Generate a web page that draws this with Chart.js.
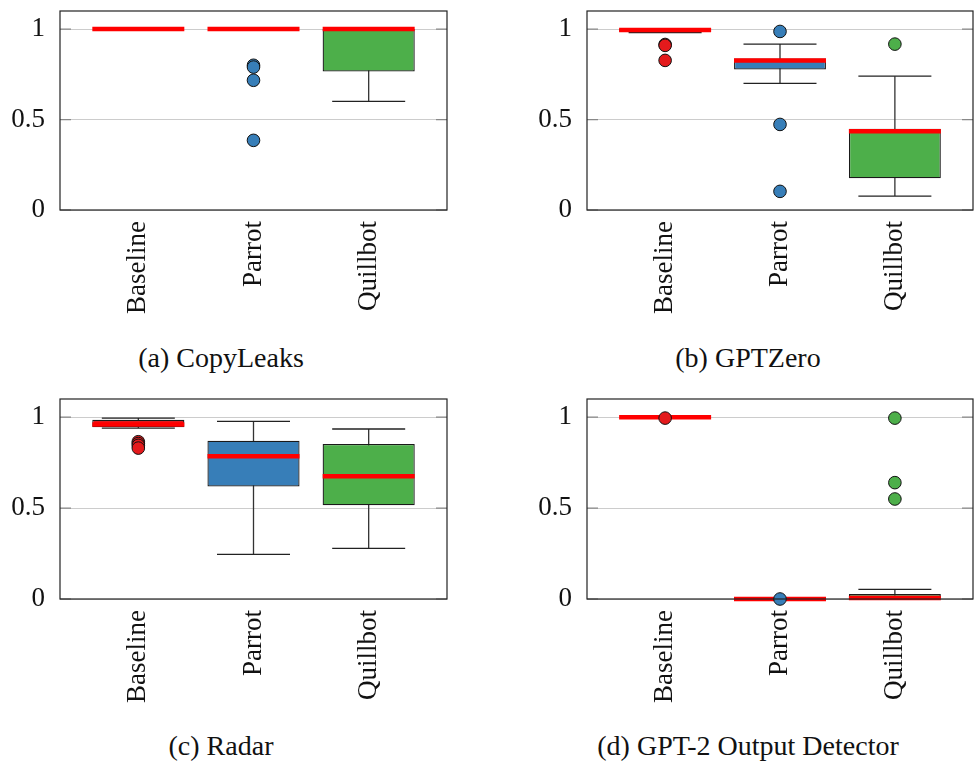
<!DOCTYPE html>
<html>
<head>
<meta charset="utf-8">
<script src="https://cdn.jsdelivr.net/npm/chart.js@4.4.1/dist/chart.umd.min.js"></script>
<style>
  body { margin: 0; background: #fff; }
  #wrap { position: relative; width: 976px; height: 763px; }
  canvas { position: absolute; }
  .caption {
    position: absolute;
    font-family: "Liberation Serif", serif;
    font-size: 28px;
    color: #111;
    transform: translate(-50%, -50%);
    white-space: nowrap;
  }
</style>
</head>
<body>
<div id="wrap">
  <canvas id="copyleaks"></canvas>
  <canvas id="gptzero"></canvas>
  <canvas id="radar"></canvas>
  <canvas id="gpt2"></canvas>
  <div class="caption" style="left:221px; top:358px;">(a) CopyLeaks</div>
  <div class="caption" style="left:748px; top:358px;">(b) GPTZero</div>
  <div class="caption" style="left:221px; top:746px;">(c) Radar</div>
  <div class="caption" style="left:748px; top:746px;">(d) GPT-2 Output Detector</div>
</div>
<script>
const categories = ['Baseline', 'Parrot', 'Quillbot'];
const yTicks = [0, 0.5, 1];
const boxColors = ['#e41a1c', '#377eb8', '#4daf4a'];

// per category: [lower whisker, q1, median, q3, upper whisker]
const copyLeaksStats = [[1, 1, 1, 1, 1], [1, 1, 1, 1, 1], [0.6, 0.765, 1, 1, 1]];
const copyLeaksOutliers = [[], [0.8, 0.79, 0.717, 0.385], []];

const gptZeroStats = [[0.98, 0.985, 0.995, 1, 1], [0.70, 0.777, 0.827, 0.838, 0.917], [0.077, 0.175, 0.435, 0.449, 0.74]];
const gptZeroOutliers = [[0.915, 0.91, 0.827], [0.987, 0.473, 0.103], [0.917]];

const radarStats = [[0.94, 0.944, 0.96, 0.986, 0.995], [0.245, 0.619, 0.785, 0.871, 0.977], [0.278, 0.515, 0.675, 0.853, 0.935]];
const radarOutliers = [[0.865, 0.855, 0.845, 0.83], [], []];

const gpt2Stats = [[1, 1, 1, 1, 1], [0, 0, 0, 0, 0], [0, 0, 0.005, 0.027, 0.053]];
const gpt2Outliers = [[0.995], [0], [0.995, 0.64, 0.55]];

const serif = '"Liberation Serif", serif';

// box around the plot area plus the small inner tick marks
const frame = {
    id: 'frame',
    afterDraw(chart) {
        const a = chart.chartArea;
        const ctx = chart.ctx;
        const y = chart.scales.y;
        ctx.save();
        ctx.strokeStyle = '#888';
        ctx.lineWidth = 1.2;
        yTicks.forEach(v => {
            const py = y.getPixelForValue(v);
            ctx.beginPath();
            ctx.moveTo(a.left, py);
            ctx.lineTo(a.left + 11, py);
            ctx.moveTo(a.right - 11, py);
            ctx.lineTo(a.right, py);
            ctx.stroke();
        });
        ctx.strokeStyle = '#222';
        ctx.strokeRect(a.left, a.top, a.right - a.left, a.bottom - a.top);
        ctx.restore();
    }
};

function noPadding(scale) {
    scale.paddingTop = 0;
    scale.paddingBottom = 0;
    scale.paddingLeft = 0;
    scale.paddingRight = 0;
}

function makePanel(id, stats, outliers, plot) {
    const canvas = document.getElementById(id);
    const w = plot.right - plot.left + 63;
    const h = plot.bottom - plot.top + 141;
    canvas.width = w;
    canvas.height = h;
    canvas.style.left = (plot.left - 60) + 'px';
    canvas.style.top = (plot.top - 11) + 'px';

    // whisker stems, one segment per category split by gaps
    const stems = [];
    stats.forEach((s, i) => {
        stems.push({ x: i, y: s[0] }, { x: i, y: s[4] }, { x: i, y: null });
    });
    const caps = [];
    stats.forEach((s, i) => {
        caps.push({ x: i, y: s[0] }, { x: i, y: s[4] });
    });
    const points = [];
    const pointColors = [];
    outliers.forEach((list, i) => {
        list.forEach(v => {
            points.push({ x: i, y: v });
            pointColors.push(boxColors[i]);
        });
    });

    new Chart(canvas, {
        type: 'bar',
        data: {
            datasets: [
                {
                    type: 'line',
                    data: stems,
                    borderColor: '#333',
                    borderWidth: 1.3,
                    pointRadius: 0,
                    spanGaps: false,
                    clip: false,
                    order: 5
                },
                {
                    type: 'scatter',
                    data: caps,
                    pointStyle: 'line',
                    pointRadius: 36.5,
                    pointBorderColor: '#222',
                    pointBorderWidth: 1.3,
                    clip: false,
                    order: 4
                },
                {
                    type: 'bar',
                    data: stats.map((s, i) => ({ x: i, y: [s[1], s[3]] })),
                    backgroundColor: boxColors,
                    borderColor: '#1a1a1a',
                    borderWidth: 1.3,
                    borderSkipped: false,
                    barPercentage: 0.8,
                    categoryPercentage: 1,
                    grouped: false,
                    clip: false,
                    order: 3
                },
                {
                    type: 'scatter',
                    data: stats.map((s, i) => ({ x: i, y: s[2] })),
                    pointStyle: 'line',
                    pointRadius: 46,
                    pointBorderColor: '#ff0000',
                    pointBorderWidth: 4.5,
                    clip: false,
                    order: 2
                },
                {
                    type: 'scatter',
                    data: points,
                    pointStyle: 'circle',
                    pointRadius: 6.3,
                    pointBackgroundColor: pointColors,
                    pointBorderColor: '#111',
                    pointBorderWidth: 1,
                    clip: false,
                    order: 1
                }
            ]
        },
        options: {
            responsive: false,
            animation: false,
            events: [],
            layout: { autoPadding: false, padding: { top: 11, right: 3, left: 0, bottom: 0 } },
            plugins: { legend: { display: false }, tooltip: { enabled: false } },
            scales: {
                x: {
                    type: 'linear',
                    min: -0.68,
                    max: 2.68,
                    offset: false,
                    afterBuildTicks: scale => { scale.ticks = categories.map((c, i) => ({ value: i })); },
                    afterFit: scale => { scale.height = 130; noPadding(scale); },
                    grid: { display: false, drawTicks: false },
                    border: { display: false },
                    ticks: {
                        callback: v => categories[v],
                        minRotation: 90,
                        maxRotation: 90,
                        padding: 11,
                        color: '#111',
                        font: { family: serif, size: 27 }
                    }
                },
                y: {
                    min: 0,
                    max: 1.1,
                    afterBuildTicks: scale => { scale.ticks = yTicks.map(v => ({ value: v })); },
                    afterFit: scale => { scale.width = 60; noPadding(scale); },
                    grid: { color: '#cccccc', lineWidth: 1, drawTicks: false },
                    border: { display: false },
                    ticks: {
                        callback: v => String(v),
                        padding: 15,
                        color: '#111',
                        font: { family: serif, size: 27 }
                    }
                }
            }
        },
        plugins: [frame]
    });
}

makePanel('copyleaks', copyLeaksStats, copyLeaksOutliers, { left: 60, right: 447, top: 11, bottom: 210 });
makePanel('gptzero', gptZeroStats, gptZeroOutliers, { left: 587, right: 973, top: 11, bottom: 210 });
makePanel('radar', radarStats, radarOutliers, { left: 60, right: 447, top: 399, bottom: 599 });
makePanel('gpt2', gpt2Stats, gpt2Outliers, { left: 587, right: 973, top: 399, bottom: 599 });
</script>
</body>
</html>
